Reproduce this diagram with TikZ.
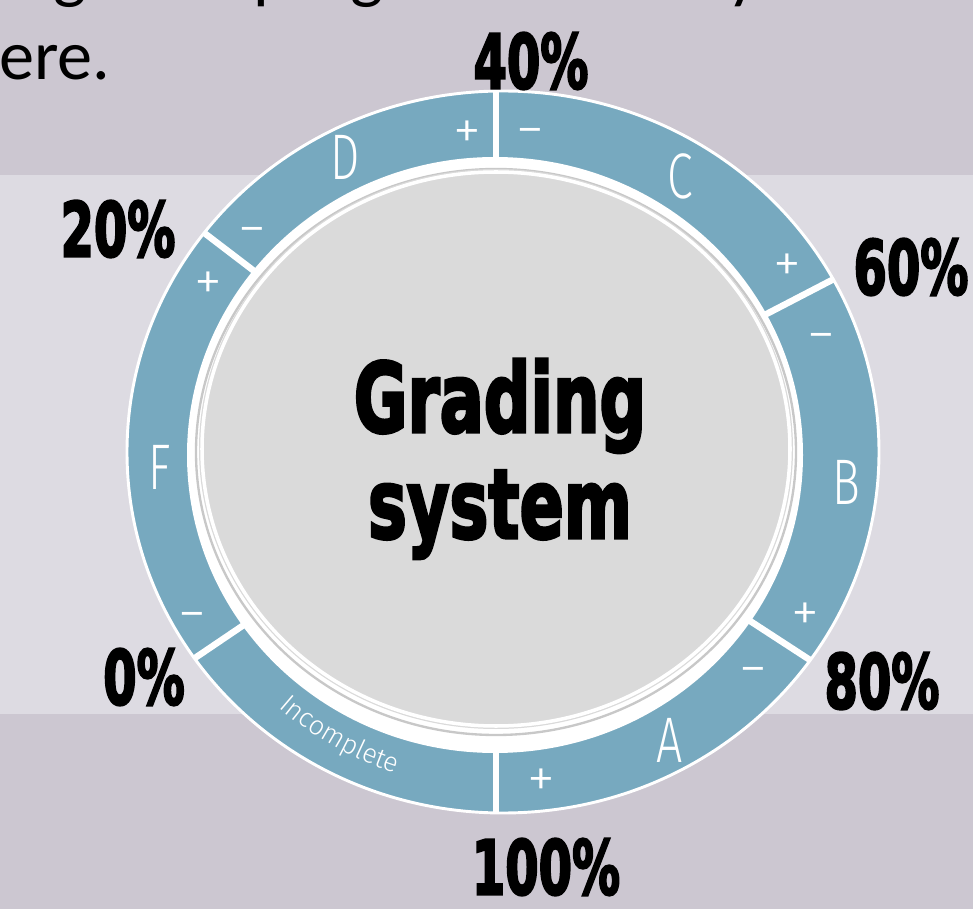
\documentclass[tikz,border=0pt]{standalone}
\usepackage{fontspec}
\usetikzlibrary{decorations.text}
\setmainfont{Carlito}
\newfontfamily\heavyfont{DejaVu Sans}[BoldFeatures={FakeBold=3.5}]
\newfontfamily\ringfont{Fira Sans Light}
\definecolor{bgdark}{HTML}{CCC7D1}
\definecolor{bglight}{HTML}{DDDBE2}
\definecolor{bandblue}{HTML}{77A9BF}
\definecolor{discgrey}{HTML}{DADADA}
\definecolor{shadowgrey}{HTML}{C8C8C8}
\newcommand\pctxt[1]{\scalebox{0.64}[1]{\heavyfont\bfseries\fontsize{64}{64}\selectfont #1}}
\newcommand\titletxt[1]{\scalebox{0.68}[1]{\heavyfont\bfseries\fontsize{82}{82}\selectfont #1}}
\newcommand\gradetxt[1]{\scalebox{0.72}[1]{\ringfont\fontsize{55}{55}\selectfont #1}}
\tikzset{
  pct/.style={inner sep=0pt, text=black},
  grade/.style={inner sep=0pt, text=white},
  sign/.style={inner sep=0pt, text=white, font=\ringfont\fontsize{48}{48}\selectfont},
  divider/.style={draw=white, line width=5.5pt},
}
\begin{document}
\begin{tikzpicture}[x=0.03cm,y=-0.03cm]
\useasboundingbox (0,0) rectangle (973,909);
% background
\fill[bgdark] (0,0) rectangle (973,909);
\fill[bglight] (0,175) rectangle (973,714);
% slide text
\node[anchor=base west, inner sep=0pt, font=\fontsize{60}{72}\selectfont] (line1) at (0,-4) {ing each progress is clearly};
\node[anchor=base west, inner sep=0pt, font=\fontsize{60}{72}\selectfont] (line2) at (-1,80) {ere.};
% ring band
\fill[bandblue] (503,452) ellipse [x radius=376, y radius=361];
\begin{scope}
  \clip (503,452) ellipse [x radius=376, y radius=361];
  \coordinate (c) at (495,455);
  \coordinate (d40) at (496,-300);
  \coordinate (d60) at (1169,105);
  \coordinate (d80) at (1125,865);
  \coordinate (d100) at (496,1200);
  \coordinate (d0) at (-111,865);
  \coordinate (d20) at (-89,9);
  \draw[divider] (496,455) -- (d40);
  \draw[divider] (c) -- (d60);
  \draw[divider] (c) -- (d80);
  \draw[divider] (496,455) -- (d100);
  \draw[divider] (c) -- (d0);
  \draw[divider] (c) -- (d20);
\end{scope}
\draw[white, line width=2.5pt] (503,452) ellipse [x radius=376, y radius=361];
% inner white gap and disc
\fill[white] (495,455) ellipse [x radius=308, y radius=298];
\draw[shadowgrey, line width=2pt] (496,452) ellipse [x radius=300, y radius=283];
\fill[discgrey] (496,449) ellipse [x radius=297, y radius=280];
\draw[white, line width=3pt] (496,449) ellipse [x radius=294, y radius=277];
% title
\node[pct, anchor=base] (title1) at (500,432) {\titletxt{Grading}};
\node[pct, anchor=base] (title2) at (500,538) {\titletxt{system}};
% grade letters
\node[grade] (gD) at (345,157) {\gradetxt{D}};
\node[grade] (gC) at (680,176) {\gradetxt{C}};
\node[grade] (gB) at (846,482) {\gradetxt{B}};
\node[grade] (gA) at (670,740) {\gradetxt{A}};
\node[grade] (gF) at (160,467) {\gradetxt{F}};
% Incomplete along the ring
\coordinate (incstart) at (257,687);
\path[decorate, decoration={text along path, text color=white, text align=center,
  text={|\ringfont\fontsize{23}{23}\selectfont|Incomplete}}]
  (incstart) arc [start angle=136, end angle=103, radius=337];
% plus and minus signs
\node[sign] (sDp) at (467,135) {+};
\node[sign] (sCm) at (530,138) {−};
\node[sign] (sDm) at (252,237) {−};
\node[sign] (sFp) at (208,286) {+};
\node[sign] (sCp) at (787,268) {+};
\node[sign] (sBm) at (821,343) {−};
\node[sign] (sBp) at (805,617) {+};
\node[sign] (sAm) at (753,677) {−};
\node[sign] (sAp) at (541,783) {+};
\node[sign] (sFm) at (192,622) {−};
% percentages
\node[pct] (p40) at (531,61) {\pctxt{40\%}};
\node[pct] (p20) at (118,229) {\pctxt{20\%}};
\node[pct] (p60) at (911,267) {\pctxt{60\%}};
\node[pct] (p0) at (144,677) {\pctxt{0\%}};
\node[pct] (p80) at (882,681) {\pctxt{80\%}};
\node[pct] (p100) at (546,867) {\pctxt{100\%}};
\end{tikzpicture}
\end{document}
